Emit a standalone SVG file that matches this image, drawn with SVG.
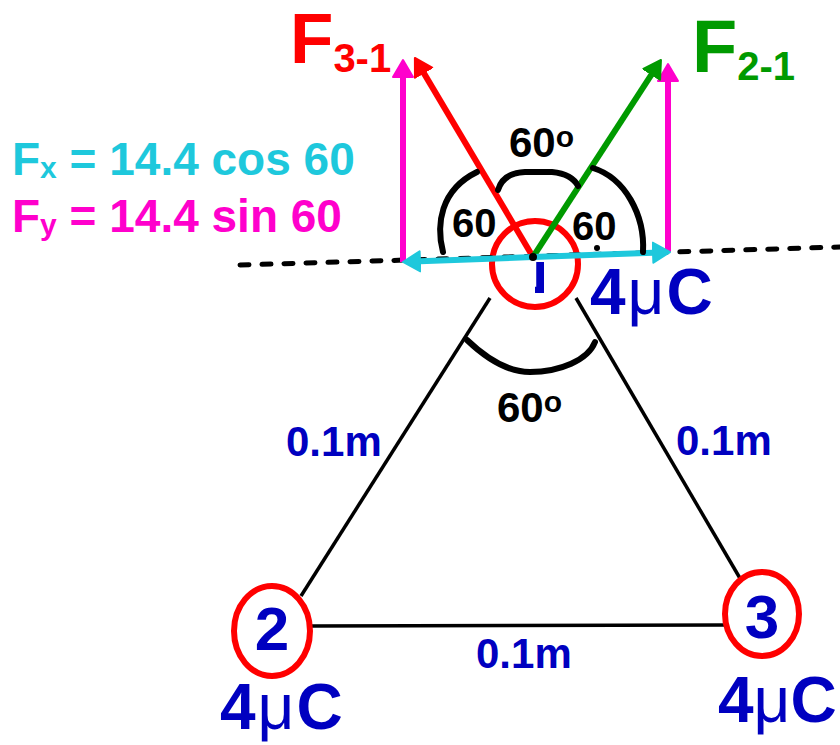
<svg xmlns="http://www.w3.org/2000/svg" width="840" height="745" viewBox="0 0 840 745">
<style>
text{font-family:"Liberation Sans",Arial,sans-serif;font-weight:bold}
.charge{fill:none;stroke:#ff0000;stroke-width:6}
.num{fill:#0000c0;font-size:62px;text-anchor:middle}
.q{fill:#0000c0;font-size:64px;letter-spacing:2px}
.mu{font-weight:normal}
.side{stroke:#000;stroke-width:3.5;fill:none}
.dist{fill:#0000c0;font-size:42px}
.arc{stroke:#000;stroke-width:6;fill:none;stroke-linecap:round}
.ang{fill:#000;font-size:42px}
.vec{stroke-width:6;fill:none}
</style>
<defs>
<marker id="ahRed" markerUnits="userSpaceOnUse" markerWidth="20" markerHeight="24" viewBox="0 -12 20 24" refX="8" refY="0" orient="auto"><path d="M1,-10 L18,0 L1,10 z" fill="#ff0000" stroke="#ff0000" stroke-width="2" stroke-linejoin="round"/></marker>
<marker id="ahGreen" markerUnits="userSpaceOnUse" markerWidth="20" markerHeight="24" viewBox="0 -12 20 24" refX="8" refY="0" orient="auto"><path d="M1,-10 L18,0 L1,10 z" fill="#009a00" stroke="#009a00" stroke-width="2" stroke-linejoin="round"/></marker>
<marker id="ahMag" markerUnits="userSpaceOnUse" markerWidth="20" markerHeight="24" viewBox="0 -12 20 24" refX="8" refY="0" orient="auto"><path d="M1,-10 L18,0 L1,10 z" fill="#ff00cc" stroke="#ff00cc" stroke-width="2" stroke-linejoin="round"/></marker>
<marker id="ahCyan" markerUnits="userSpaceOnUse" markerWidth="20" markerHeight="24" viewBox="0 -12 20 24" refX="8" refY="0" orient="auto"><path d="M1,-10 L18,0 L1,10 z" fill="#1ec8dc" stroke="#1ec8dc" stroke-width="2" stroke-linejoin="round"/></marker>
<clipPath id="clip1"><rect x="535" y="262" width="9" height="32"/></clipPath>
</defs>

<g id="connectors">
<line class="side" x1="490" y1="298" x2="301" y2="596"/>
<line class="side" x1="576" y1="298" x2="741" y2="580"/>
<line class="side" x1="311" y1="626" x2="725" y2="625"/>
</g>

<g id="node2">
<ellipse class="charge" cx="272" cy="631" rx="38" ry="45"/>
<text class="num" x="272" y="650">2</text>
<text class="q" x="220" y="729">4<tspan class="mu">μ</tspan>C</text>
</g>

<g id="node3">
<ellipse class="charge" cx="762" cy="614" rx="37" ry="42"/>
<text class="num" x="762" y="638">3</text>
<text class="q" x="718" y="722" style="letter-spacing:0px">4<tspan class="mu">μ</tspan>C</text>
</g>

<g id="node1">
<circle class="charge" cx="535" cy="264" r="43"/>
<text class="num" x="539" y="293" clip-path="url(#clip1)">1</text>
<text class="q" x="590" y="314">4<tspan class="mu">μ</tspan>C</text>
</g>

<g id="reference-line">
<line x1="240" y1="265" x2="840" y2="247" stroke="#000" stroke-width="5" stroke-dasharray="9 13" stroke-linecap="round"/>
</g>

<g id="forces">
<line class="vec" stroke="#ff00cc" x1="403" y1="262" x2="403" y2="70" marker-end="url(#ahMag)"/>
<line class="vec" stroke="#ff00cc" x1="668" y1="252" x2="668" y2="74" marker-end="url(#ahMag)"/>
<line class="vec" stroke="#ff0000" x1="533" y1="257" x2="420" y2="66.6" marker-end="url(#ahRed)"/>
<line class="vec" stroke="#009a00" x1="533" y1="257" x2="655.5" y2="68.4" marker-end="url(#ahGreen)"/>
<line class="vec" stroke="#1ec8dc" x1="533" y1="257" x2="413" y2="261.6" marker-end="url(#ahCyan)"/>
<line class="vec" stroke="#1ec8dc" x1="533" y1="257" x2="660" y2="252.4" marker-end="url(#ahCyan)"/>
<circle cx="533" cy="257" r="4" fill="#000"/>
</g>

<g id="angles">
<path class="arc" d="M498,190 Q503,173 525,172 L552,172 Q572,174 578,186"/>
<path class="arc" d="M443,252 C436,225 440,190 477,172"/>
<path class="arc" d="M593,168 C625,178 645,215 643,252"/>
<path class="arc" d="M467,340 C490,362 510,372 530,372 C560,372 588,360 595,342"/>
<circle cx="597" cy="248" r="3" fill="#000"/>
<text class="ang" x="509" y="157">60<tspan font-size="30" dy="-10">o</tspan></text>
<text class="ang" x="452" y="237" style="font-size:40px">60</text>
<text class="ang" x="572" y="240" style="font-size:40px">60</text>
<text class="ang" x="497" y="422">60<tspan font-size="30" dy="-10">o</tspan></text>
</g>

<g id="labels">
<text class="dist" x="286" y="456">0.1m</text>
<text class="dist" x="676" y="455">0.1m</text>
<text class="dist" x="476" y="668">0.1m</text>
<text x="290" y="63" fill="#ff0000" font-size="71">F<tspan font-size="40" dy="9">3-1</tspan></text>
<text x="692" y="72" fill="#009a00" font-size="74">F<tspan font-size="40" dy="8">2-1</tspan></text>
<text x="12" y="175" fill="#1ec8dc" font-size="46">F<tspan font-size="30" dy="3">x</tspan><tspan dy="-3"> = 14.4 cos 60</tspan></text>
<text x="12" y="232" fill="#ff00cc" font-size="46">F<tspan font-size="30" dy="3">y</tspan><tspan dy="-3"> = 14.4 sin 60</tspan></text>
</g>
</svg>
